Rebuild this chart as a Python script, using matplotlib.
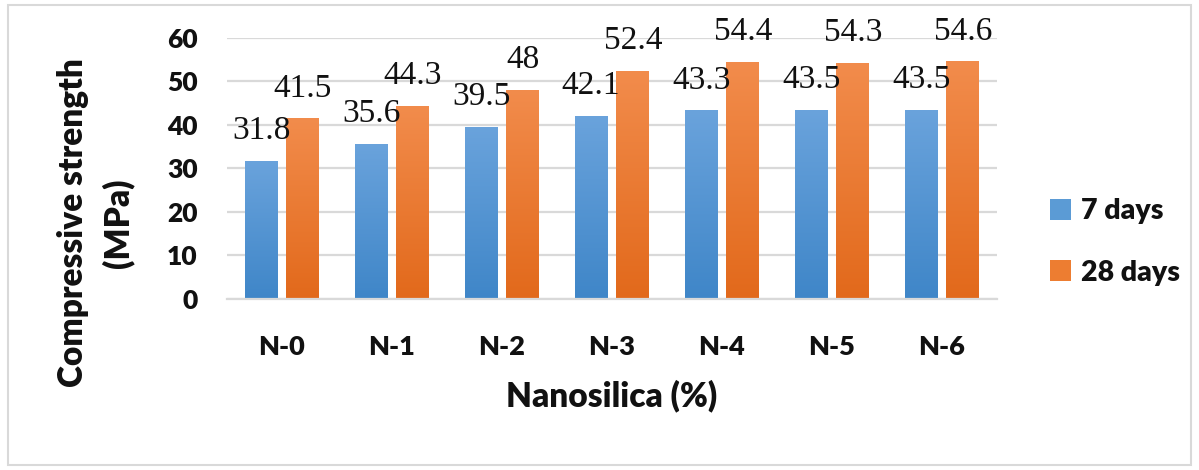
#imports
import numpy as np
import matplotlib.pyplot as plt
from matplotlib.patches import Rectangle
from matplotlib.colors import LinearSegmentedColormap

#data
groups = ['N-0', 'N-1', 'N-2', 'N-3', 'N-4', 'N-5', 'N-6']
days7 = [31.8, 35.6, 39.5, 42.1, 43.3, 43.5, 43.5]
days28 = [41.5, 44.3, 48, 52.4, 54.4, 54.3, 54.6]
labels7 = ['31.8', '35.6', '39.5', '42.1', '43.3', '43.5', '43.5']
labels28 = ['41.5', '44.3', '48', '52.4', '54.4', '54.3', '54.6']
yticks = [0, 10, 20, 30, 40, 50, 60]

#style
blue = '#5b9bd5'
orange = '#ed7d31'
cmBlue = LinearSegmentedColormap.from_list('b', ['#3f86c8', '#6aa3dc'])
cmOrange = LinearSegmentedColormap.from_list('o', ['#e2691b', '#f28c4c'])
sans = 'Lato'
serif = 'Liberation Serif'
ink = '#111111'

fig = plt.figure(figsize=(11.99, 4.70), dpi=100)
ax = fig.add_axes([0.1893, 0.3638, 0.6422, 0.556])
x = np.arange(len(groups))
w = 0.30
off = 0.19

b1 = ax.bar(x - off, days7, w, color=blue, label='7 days', zorder=2)
b2 = ax.bar(x + off, days28, w, color=orange, label='28 days', zorder=2)

#gradient fill
grad = np.linspace(0, 1, 256).reshape(-1, 1)
for bars, cm in [(b1, cmBlue), (b2, cmOrange)]:
    for r in bars:
        x0, y0 = r.get_x(), r.get_y()
        im = ax.imshow(grad, cmap=cm, origin='lower', aspect='auto',
                       extent=[x0, x0 + r.get_width(), y0, y0 + r.get_height()], zorder=2.1)
        im.set_clip_path(r)

#value labels
for bars, labs in [(b1, labels7), (b2, labels28)]:
    for r, s in zip(bars, labs):
        ax.annotate(s, (r.get_x() + r.get_width() / 2, r.get_height()),
                    xytext=(0, 21.5), textcoords='offset points', ha='center', va='center',
                    fontsize=24, family=serif, color=ink, annotation_clip=False, zorder=3)

ax.set_xlim(-0.5, 6.5)
ax.set_ylim(0, 60)
ax.set_yticks(yticks)
ax.set_xticks(x)
ax.set_xticklabels(groups)
ax.yaxis.grid(True, color='#d9d9d9', lw=1.6, zorder=0)
ax.set_axisbelow(True)
for s in ['top', 'right', 'left']:
    ax.spines[s].set_visible(False)
ax.spines['bottom'].set_color('#d9d9d9')
ax.spines['bottom'].set_linewidth(1.6)
ax.tick_params(length=0)
ax.tick_params(axis='y', pad=21)
ax.tick_params(axis='x', pad=26)
for t in ax.get_yticklabels():
    t.set_family(sans); t.set_fontweight('heavy'); t.set_fontsize(19); t.set_color(ink)
for t in ax.get_xticklabels():
    t.set_family(sans); t.set_fontweight('heavy'); t.set_fontsize(19.5); t.set_color(ink)

#axis titles
fig.text(0.080, 0.5255, 'Compressive strength\n(MPa)', rotation=90, ha='center', va='center',
         multialignment='center', linespacing=1.45, family=sans, fontweight='heavy', fontsize=24, color=ink)
fig.text(612 / 1199, 1 - 396 / 470, 'Nanosilica (%)', ha='center', va='center',
         family=sans, fontweight='heavy', fontsize=24, color=ink)

#legend
leg = ax.legend(loc='center left', bbox_to_anchor=(1050 / 1199, 1 - 242 / 470), bbox_transform=fig.transFigure,
                frameon=False, borderpad=0, borderaxespad=0, handlelength=0.75, handleheight=0.75,
                handletextpad=0.35, labelspacing=1.25,
                prop={'family': sans, 'weight': 'heavy', 'size': 20.5})
for t in leg.get_texts():
    t.set_color(ink)

#frame
fig.patches.append(Rectangle((8 / 1199, 5 / 470), 1183 / 1199, 460 / 470, transform=fig.transFigure,
                             fill=False, edgecolor='#d9d9d9', lw=1.5))

fig.savefig('out.png', dpi=100)
